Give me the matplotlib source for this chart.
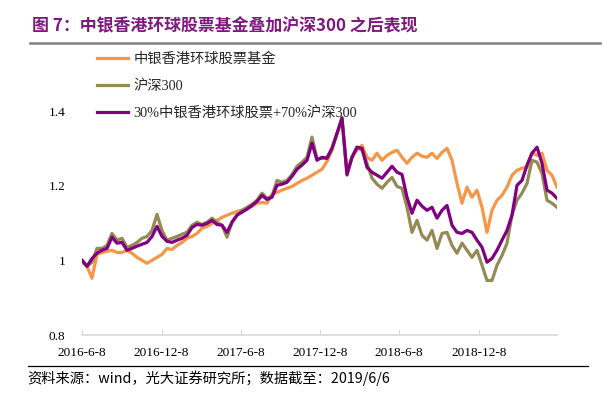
import numpy as np
import pandas as pd
import matplotlib
matplotlib.use('Agg')
from matplotlib import pyplot as plt
from matplotlib.lines import Line2D

CJK = ['Noto Sans CJK SC', 'DejaVu Sans']
SERIF = ['Liberation Serif', 'Noto Sans CJK SC']

START, END = '2016-06-08', '2019-06-06'

fund = [0.995, 0.984, 0.952, 1.016, 1.021, 1.024, 1.027, 1.021, 1.021, 1.027,
        1.019, 1.008, 1.000, 0.992, 1.000, 1.008, 1.016, 1.032, 1.029, 1.040,
        1.048, 1.059, 1.064, 1.072, 1.086, 1.091, 1.099, 1.107, 1.115, 1.121,
        1.126, 1.131, 1.134, 1.139, 1.145, 1.153, 1.155, 1.153, 1.177, 1.182,
        1.188, 1.193, 1.198, 1.206, 1.214, 1.220, 1.228, 1.236, 1.244, 1.265,
        1.295, 1.340, 1.375, 1.241, 1.276, 1.295, 1.308, 1.276, 1.268, 1.287,
        1.268, 1.281, 1.289, 1.295, 1.276, 1.260, 1.276, 1.287, 1.279, 1.276,
        1.287, 1.273, 1.289, 1.300, 1.268, 1.206, 1.153, 1.196, 1.169, 1.188,
        1.142, 1.075, 1.134, 1.161, 1.174, 1.196, 1.228, 1.241, 1.247, 1.249,
        1.289, 1.281, 1.287, 1.241, 1.228, 1.196]

hs300 = [1.000, 0.984, 0.995, 1.032, 1.032, 1.040, 1.072, 1.054, 1.059, 1.035,
         1.040, 1.048, 1.059, 1.064, 1.080, 1.123, 1.080, 1.054, 1.059, 1.064,
         1.070, 1.075, 1.094, 1.102, 1.096, 1.102, 1.113, 1.102, 1.094, 1.062,
         1.102, 1.121, 1.134, 1.142, 1.150, 1.161, 1.180, 1.166, 1.172, 1.214,
         1.209, 1.214, 1.230, 1.252, 1.263, 1.276, 1.330, 1.273, 1.273, 1.276,
         1.300, 1.340, 1.383, 1.228, 1.276, 1.303, 1.295, 1.260, 1.220, 1.204,
         1.193, 1.209, 1.222, 1.198, 1.193, 1.142, 1.075, 1.107, 1.067, 1.054,
         1.080, 1.032, 1.072, 1.075, 1.040, 1.019, 1.046, 1.027, 1.008, 1.027,
         0.987, 0.946, 0.946, 0.987, 1.013, 1.046, 1.121, 1.161, 1.180, 1.206,
         1.268, 1.263, 1.233, 1.161, 1.153, 1.142]

mix = [1.000, 0.984, 1.005, 1.019, 1.027, 1.032, 1.062, 1.046, 1.048, 1.027,
       1.032, 1.038, 1.043, 1.048, 1.064, 1.091, 1.064, 1.051, 1.048, 1.054,
       1.059, 1.067, 1.088, 1.096, 1.094, 1.099, 1.107, 1.096, 1.094, 1.075,
       1.102, 1.121, 1.129, 1.137, 1.147, 1.158, 1.174, 1.163, 1.169, 1.201,
       1.204, 1.209, 1.225, 1.244, 1.255, 1.268, 1.314, 1.268, 1.276, 1.273,
       1.300, 1.340, 1.381, 1.230, 1.276, 1.303, 1.300, 1.249, 1.236, 1.228,
       1.220, 1.236, 1.252, 1.236, 1.230, 1.169, 1.126, 1.161, 1.145, 1.134,
       1.142, 1.113, 1.134, 1.147, 1.094, 1.075, 1.072, 1.080, 1.075, 1.054,
       1.035, 0.995, 1.005, 1.027, 1.054, 1.080, 1.121, 1.201, 1.214, 1.255,
       1.287, 1.303, 1.260, 1.188, 1.180, 1.166]

labels = ['中银香港环球股票基金', '沪深300', '30%中银香港环球股票+70%沪深300']
colors = ['#F79646', '#948A54', '#800080']

xtick_dates = ['2016-06-08', '2016-12-08', '2017-06-08', '2017-12-08', '2018-06-08', '2018-12-08']
xtick_labels = ['2016-6-8', '2016-12-8', '2017-6-8', '2017-12-8', '2018-6-8', '2018-12-8']
yticks = [0.8, 1.0, 1.2, 1.4]
ytick_labels = ['0.8', '1', '1.2', '1.4']

W, H = 604, 397
fig = plt.figure(figsize=(W / 100, H / 100), dpi=100)
ax = fig.add_axes([82 / W, 1 - 335 / H, (557 - 82) / W, (335 - 111) / H])

for vals, lab, c in zip([fund, hs300, mix], labels, colors):
    dates = pd.date_range(START, END, periods=len(vals))
    ax.plot(dates, vals, color=c, lw=2.3, label=lab, solid_joinstyle='round')

ax.set_xlim(pd.Timestamp(START), pd.Timestamp(END))
ax.set_ylim(0.8, 1.4)
ax.set_xticks(pd.to_datetime(xtick_dates))
ax.set_xticklabels(xtick_labels, family=SERIF, fontsize=9.5)
ax.set_yticks(yticks)
ax.set_yticklabels(ytick_labels, family=SERIF, fontsize=9.5)
ax.tick_params(axis='x', direction='in', length=4, color='#D9D9D9', pad=9)
ax.tick_params(axis='y', length=0, pad=12)
for s in ['top', 'right', 'left']:
    ax.spines[s].set_visible(False)
ax.spines['bottom'].set_color('#D9D9D9')
ax.spines['bottom'].set_linewidth(1.2)

leg = ax.legend(loc='upper left', bbox_to_anchor=(97 / W, 1 - 52 / H), bbox_transform=fig.transFigure,
                frameon=False, borderaxespad=0, borderpad=0,
                handlelength=2.2, handletextpad=0.35, labelspacing=0.95,
                prop={'family': SERIF, 'size': 10.3})
for t in leg.get_texts():
    t.set_color('#262626')

fig.text(32 / W, 1 - 26 / H, '图 7：中银香港环球股票基金叠加沪深300 之后表现', family=CJK,
         fontsize=12.2, fontweight='bold', color='#7E1A7E', va='center', ha='left')
fig.add_artist(Line2D([30 / W, 600 / W], [1 - 43 / H, 1 - 43 / H], color='#808080', lw=1.8))
fig.add_artist(Line2D([28 / W, 588 / W], [1 - 366 / H, 1 - 366 / H], color='black', lw=0.9))
fig.text(27 / W, 1 - 378 / H, '资料来源：wind，光大证券研究所；数据截至：2019/6/6', family=CJK,
         fontsize=10.3, color='black', va='center', ha='left')

fig.savefig('out.png', dpi=100)
